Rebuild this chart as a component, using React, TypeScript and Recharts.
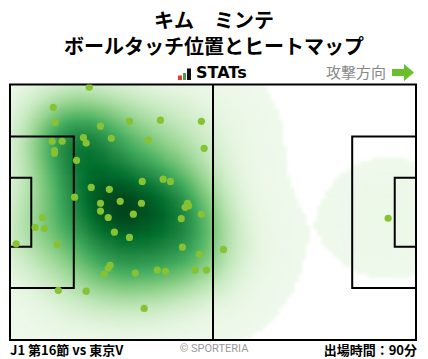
import React from 'react';
import { ScatterChart, Scatter, XAxis, YAxis, ReferenceArea, ReferenceLine } from 'recharts';

const playerName = 'キム　ミンテ';
const chartTitle = 'ボールタッチ位置とヒートマップ';
const matchLabel = 'J1 第16節 vs 東京V';
const minutesLabel = '出場時間：90分';
const directionLabel = '攻撃方向';
const creditLabel = '© SPORTERIA';

// pitch in metres, attacking left -> right, y measured from the top touchline
const PITCH_LENGTH = 105;
const PITCH_WIDTH = 68;

// ball touches (metres)
const touchX = [
  20.5, 11.2, 11.7, 23.4, 30.9, 38.9, 49.5, 10.9, 13.5, 19.0, 19.7, 26.2, 35.8, 50.2,
  11.5, 11.5, 17.2, 34.2, 39.6, 41.5, 21.0, 25.7, 16.7, 28.5, 23.4, 34.0, 45.9, 45.3,
  46.2, 23.4, 31.9, 49.5, 8.4, 25.4, 44.3, 6.5, 8.9, 27.0, 30.9, 1.6, 12.2, 44.6,
  49.0, 25.9, 25.4, 24.4, 32.4, 38.1, 40.2, 47.9, 50.8, 12.5, 19.7, 34.7, 55.2, 97.8,
];
const touchY = [
  0.7, 6.1, 10.1, 11.1, 9.8, 9.5, 9.8, 15.1, 15.1, 14.1, 15.6, 14.3, 14.8, 17.0,
  17.6, 18.3, 20.2, 25.8, 25.2, 25.8, 27.4, 27.9, 30.0, 31.1, 31.6, 31.6, 31.6, 32.7,
  32.3, 33.7, 34.5, 34.5, 35.4, 35.4, 35.7, 38.0, 38.3, 39.3, 40.7, 42.4, 42.5, 43.3,
  45.2, 48.1, 48.9, 50.5, 50.2, 49.4, 49.7, 49.4, 49.4, 54.8, 55.0, 59.6, 43.9, 35.6,
];

const greens = ['#f7fcf5', '#e5f5e0', '#c7e9c0', '#a1d99b', '#74c476', '#41ab5d', '#238b45', '#006d2c', '#00441b'];

const touches = touchX.map((x, i) => ({ x, y: touchY[i] }));

// kernel density estimate on a 1m grid
const BW_X = 9.5;
const BW_Y = 9;
const THRESH = 0.015;
const GAMMA = 1.4;
const FLOOR = 0.06;

function hexToRgb(h: string) {
  return [1, 3, 5].map((i) => parseInt(h.slice(i, i + 2), 16));
}

function greensAt(t: number) {
  const p = Math.max(0, Math.min(1, t)) * (greens.length - 1);
  const i = Math.min(greens.length - 2, Math.floor(p));
  const f = p - i;
  const a = hexToRgb(greens[i]);
  const b = hexToRgb(greens[i + 1]);
  const c = a.map((v, k) => Math.round(v + (b[k] - v) * f));
  return `rgb(${c[0]},${c[1]},${c[2]})`;
}

function buildHeat() {
  const raw: { x: number; y: number; d: number }[] = [];
  let max = 0;
  for (let gx = -1; gx <= PITCH_LENGTH + 1; gx += 1) {
    for (let gy = -1; gy <= PITCH_WIDTH + 1; gy += 1) {
      let d = 0;
      for (const t of touches) {
        const dx = gx - t.x;
        const dy = gy - t.y;
        d += Math.exp(-(dx * dx) / (2 * BW_X * BW_X) - (dy * dy) / (2 * BW_Y * BW_Y));
      }
      if (d > max) max = d;
      raw.push({ x: gx, y: gy, d });
    }
  }
  return raw
    .map((c) => ({ ...c, t: c.d / max }))
    .filter((c) => c.t >= THRESH)
    .map((c) => ({
      x: c.x,
      y: c.y,
      fill: greensAt(FLOOR + (1 - FLOOR) * Math.pow((c.t - THRESH) / (1 - THRESH), GAMMA)),
    }));
}

const heatCells = buildHeat();

const W = 428;
const CHART_TOP = 80;
const CHART_H = 264;
const MARGIN = { top: 4.5, right: 12, bottom: 4, left: 10 };
const PX_X = (W - MARGIN.left - MARGIN.right) / PITCH_LENGTH;
const PX_Y = (CHART_H - MARGIN.top - MARGIN.bottom) / PITCH_WIDTH;

const HeatCell = (props: any) => (
  <rect
    x={props.cx - PX_X / 2 - 0.3}
    y={props.cy - PX_Y / 2 - 0.3}
    width={PX_X + 0.6}
    height={PX_Y + 0.6}
    fill={props.payload.fill}
  />
);

const TouchDot = (props: any) => <circle cx={props.cx} cy={props.cy} r={3.6} fill="#86c232" />;

const axes = (
  <>
    <XAxis type="number" dataKey="x" domain={[0, PITCH_LENGTH]} hide allowDataOverflow />
    <YAxis type="number" dataKey="y" domain={[0, PITCH_WIDTH]} reversed hide allowDataOverflow />
  </>
);

const line = { fill: 'none', fillOpacity: 0, stroke: '#000', strokeWidth: 2, strokeOpacity: 1 };

export default function App() {
  return (
    <div
      style={{
        position: 'fixed',
        left: 0,
        top: 0,
        width: W,
        height: 359,
        background: '#fff',
        fontFamily: '"Noto Sans CJK JP", "Noto Sans", sans-serif',
        overflow: 'hidden',
      }}
    >
      <div style={{ position: 'absolute', top: 9, width: W, textAlign: 'center', fontSize: 20, fontWeight: 700, lineHeight: '22px' }}>
        {playerName}
      </div>
      <div style={{ position: 'absolute', top: 35, width: W, textAlign: 'center', fontSize: 20, fontWeight: 700, lineHeight: '22px' }}>
        {chartTitle}
      </div>

      <svg style={{ position: 'absolute', left: 176, top: 66 }} width={16} height={16}>
        <rect x={2} y={9.5} width={4} height={4.5} fill="#e53935" />
        <rect x={7} y={7} width={3} height={7} fill="#43a047" />
        <rect x={11} y={2.5} width={4} height={11.5} fill="#111" />
      </svg>
      <div style={{ position: 'absolute', left: 196, top: 63, fontFamily: '"DejaVu Sans", sans-serif', fontSize: 16, fontWeight: 700, lineHeight: '20px' }}>
        STATs
      </div>

      <div style={{ position: 'absolute', left: 326, top: 62, fontSize: 15, color: '#888', lineHeight: '20px' }}>
        {directionLabel}
      </div>
      <svg style={{ position: 'absolute', left: 391, top: 63 }} width={24} height={19}>
        <polygon points="1,6 13,6 13,1 23,9.5 13,18 13,13 1,13" fill="#6bbf2a" />
      </svg>

      <div style={{ position: 'absolute', left: 0, top: CHART_TOP, filter: 'blur(1.5px)' }}>
        <ScatterChart width={W} height={CHART_H} margin={MARGIN}>
          {axes}
          <Scatter data={heatCells} shape={HeatCell} isAnimationActive={false} />
        </ScatterChart>
      </div>
      <div style={{ position: 'absolute', left: 0, top: CHART_TOP }}>
        <ScatterChart width={W} height={CHART_H} margin={MARGIN}>
          {axes}
          <ReferenceArea x1={0} x2={16.5} y1={13.84} y2={54.16} {...line} />
          <ReferenceArea x1={0} x2={5.5} y1={24.84} y2={43.16} {...line} />
          <ReferenceArea x1={88.5} x2={PITCH_LENGTH} y1={13.84} y2={54.16} {...line} />
          <ReferenceArea x1={99.5} x2={PITCH_LENGTH} y1={24.84} y2={43.16} {...line} />
          <ReferenceLine x={PITCH_LENGTH / 2} stroke="#000" strokeWidth={2} />
          <ReferenceArea x1={0} x2={PITCH_LENGTH} y1={0} y2={PITCH_WIDTH} {...line} />
          <Scatter data={touches} shape={TouchDot} isAnimationActive={false} />
        </ScatterChart>
      </div>

      <div style={{ position: 'absolute', left: 10, top: 340, fontSize: 13, fontWeight: 700, lineHeight: '19px' }}>{matchLabel}</div>
      <div style={{ position: 'absolute', left: 0, top: 340, width: W, textAlign: 'center', fontSize: 11, color: '#999', lineHeight: '17px', fontFamily: 'Roboto, sans-serif' }}>
        {creditLabel}
      </div>
      <div style={{ position: 'absolute', right: 11, top: 340, fontSize: 13, fontWeight: 700, lineHeight: '19px' }}>{minutesLabel}</div>
    </div>
  );
}
